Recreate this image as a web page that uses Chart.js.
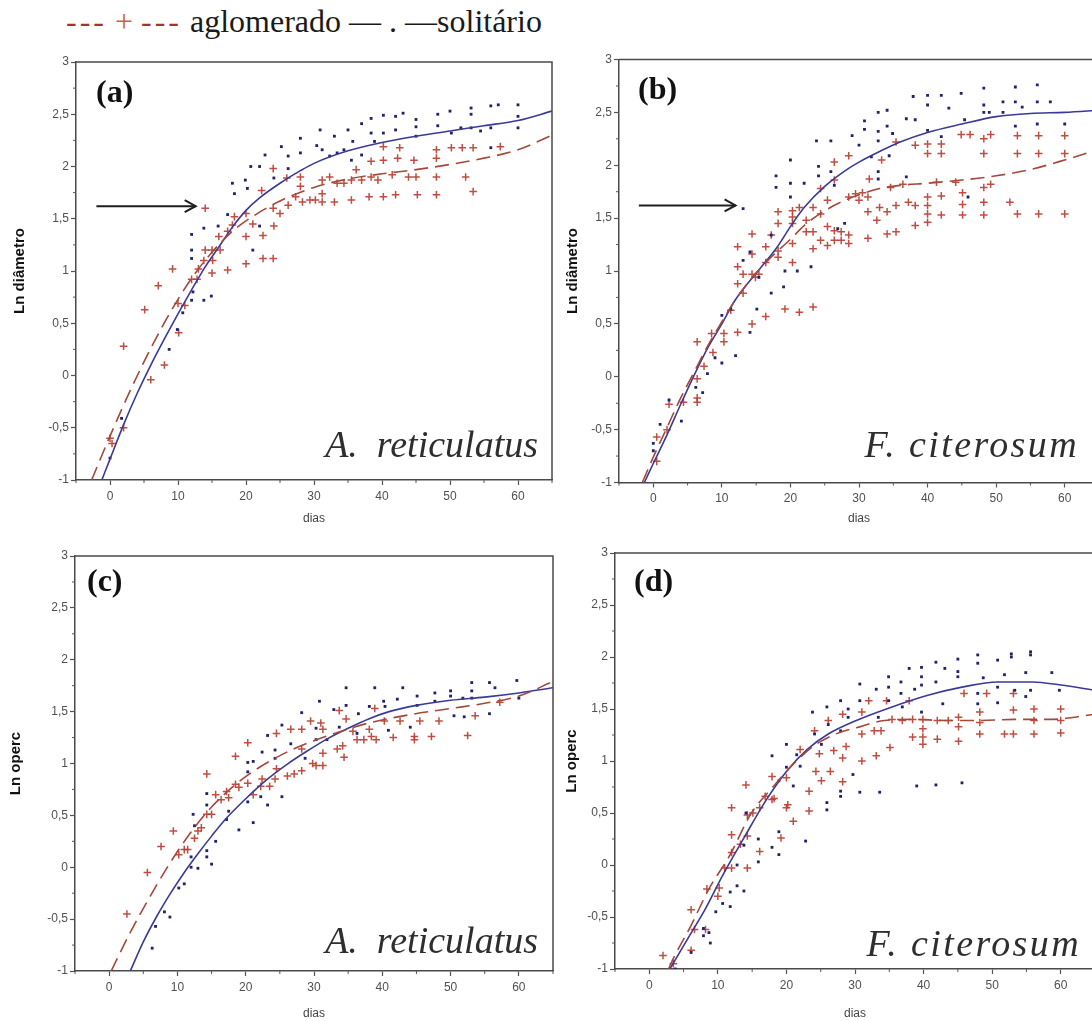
<!DOCTYPE html>
<html><head><meta charset="utf-8">
<script src="https://cdn.jsdelivr.net/npm/chart.js@4.4.1/dist/chart.umd.min.js"></script>
<style>
html,body{margin:0;padding:0;background:#fff;}
body{width:1092px;height:1021px;overflow:hidden;position:relative;}
canvas{position:absolute;}
#legend{position:absolute;left:66px;top:5px;line-height:32px;font-family:"Liberation Serif","Times New Roman",serif;font-size:32px;color:#1a1a1a;white-space:nowrap;}
#legend .d{color:#a8322a;letter-spacing:3px;}
#legend .p{color:#d2603e;}
</style></head><body>
<div id="legend"><span class="d">---</span> <span class="p">+</span> <span class="d">---</span> aglomerado — . —solitário</div>
<script>
// ---------- tick labels / texts ----------
const diasLabels = ['0','10','20','30','40','50','60'];
const lnLabels = ['-1','-0,5','0','0,5','1','1,5','2','2,5','3'];
const panelLetters = ['(a)','(b)','(c)','(d)'];
const speciesNames = ['A.  reticulatus','F. citerosum','A.  reticulatus','F. citerosum'];
const yTitles = ['Ln diâmetro','Ln diâmetro','Ln operc','Ln operc'];
const xTitle = 'dias';

// ---------- panel (a) : Ln diâmetro, A. reticulatus ----------
const aAglomerado = [[0,-0.6],[0.3,-0.65],[2,0.28],[2,-0.5],[5.1,0.63],[6,-0.04],[7.1,0.86],[8,0.1],[9.2,1.02],[10.1,0.41],[10,0.69],[11,0.67],[12,0.92],[12.8,0.92],[13,1.02],[13.8,1.1],[14,1.6],[14,1.2],[15,1.2],[15,0.98],[15.1,1.1],[16.2,1.2],[17.3,1.01],[16,1.33],[17.3,1.38],[18,1.44],[18.3,1.52],[20,1.33],[20,1.07],[20,1.55],[21,1.45],[22.3,1.77],[22.5,1.34],[22.5,1.12],[24,1.98],[24,1.6],[24.1,1.43],[24,1.12],[25,1.55],[26,1.89],[26.2,1.63],[27.3,1.71],[28,1.81],[28,1.9],[28.3,1.66],[29.4,1.68],[30.2,1.68],[31.2,1.74],[31.2,1.66],[31.2,1.87],[32.3,1.9],[33,1.66],[33.4,1.84],[34.4,1.84],[35.5,1.87],[35.5,1.68],[36.2,1.97],[37,1.87],[38.1,1.71],[38.4,1.9],[38.4,2.05],[39.4,1.87],[40.2,1.71],[40.2,2.06],[40.2,2.19],[41.5,1.92],[42,1.73],[42.3,2.08],[42.6,2.18],[43.9,1.9],[44.7,2.06],[45.2,1.73],[45,1.9],[48,2.16],[48,2.08],[48,1.9],[48,1.73],[50.2,2.18],[51.8,2.18],[52.3,1.9],[53.4,2.18],[53.4,1.76],[57.4,2.19]];
const aSolitario = [[0,-0.79],[1.7,-0.41],[8.7,0.25],[9.9,0.44],[10.7,0.6],[12,0.72],[12.2,0.8],[13.8,0.72],[14.9,0.76],[12,1.35],[12,1.2],[12,1.12],[13.8,1.41],[15.9,1.43],[17.3,1.54],[18,1.84],[18.3,1.74],[19.9,1.87],[20.2,1.79],[20.7,2.0],[21,1.2],[22,2.0],[22,1.43],[22.8,2.11],[24.1,1.89],[25.2,2.19],[26.2,2.1],[26.2,1.98],[28,2.13],[28,2.27],[30.4,2.2],[30.9,2.35],[31.2,2.16],[32.3,2.1],[33,2.29],[33.4,2.13],[34.4,2.16],[35,2.35],[35.5,2.06],[35.7,2.24],[37,2.41],[37,2.11],[38.4,2.46],[38.4,2.32],[38.9,2.24],[40.2,2.49],[40.2,2.32],[42,2.48],[42,2.35],[43.1,2.51],[45,2.45],[45,2.38],[45,2.29],[48.2,2.5],[48.2,2.39],[50,2.53],[50.2,2.32],[51.6,2.37],[53.1,2.56],[53.1,2.5],[53.1,2.37],[54.5,2.34],[56,2.58],[56,2.37],[56,2.18],[57.1,2.59],[60,2.59],[60,2.48],[60,2.37]];
const aCurveAglomerado = [[-2.7,-1],[0,-0.58],[3,-0.14],[6,0.26],[9,0.62],[12,0.93],[15,1.18],[18,1.38],[20,1.48],[25,1.67],[30,1.8],[35,1.88],[40,1.93],[45,1.97],[50,2.02],[55,2.08],[60,2.16],[65,2.3]];
const aCurveSolitario = [[-1.2,-1],[0,-0.8],[2,-0.47],[4,-0.17],[6,0.1],[8,0.35],[10,0.59],[12,0.82],[14,1.04],[16,1.23],[18,1.42],[20,1.58],[22,1.7],[25,1.84],[28,1.96],[30,2.03],[35,2.15],[40,2.23],[45,2.29],[50,2.34],[55,2.39],[60,2.44],[65,2.53]];
const aArrow = [[-2.0,1.62],[12.6,1.62]];

// ---------- panel (b) : Ln diâmetro, F. citerosum ----------
const bAglomerado = [[0.5,-0.57],[0.5,-0.8],[2,-0.5],[2.3,-0.26],[4.4,-0.24],[6.4,-0.02],[6.4,-0.24],[6.4,-0.2],[6.4,0.33],[7.4,0.1],[8.5,0.41],[8.7,0.23],[10.3,0.41],[10.3,0.33],[11.3,0.63],[12.3,1.23],[12.3,1.04],[12.3,0.88],[12.3,0.42],[13.1,0.79],[13.1,0.97],[14.4,1.35],[14.4,1.16],[14.4,0.97],[14.4,0.5],[14.9,0.94],[15.4,0.97],[16.4,1.23],[16.4,1.08],[16.4,0.57],[17.2,1.34],[18.2,1.56],[18.2,1.45],[18.2,1.19],[18.2,1.13],[19.2,0.64],[20.3,1.57],[20.3,1.51],[20.3,1.45],[20.3,1.26],[20.3,1.08],[21.3,1.6],[21.3,0.61],[22.3,1.48],[22.3,1.37],[23.3,1.6],[23.3,1.37],[23.3,1.21],[23.3,0.66],[24.4,1.78],[24.4,1.54],[24.4,1.29],[25.4,1.67],[25.4,1.42],[25.4,1.24],[26.4,2.03],[26.4,1.86],[26.4,1.38],[26.4,1.29],[27.4,1.37],[27.4,1.29],[28.5,2.09],[28.5,1.7],[28.5,1.34],[28.5,1.26],[29.5,1.73],[30,1.67],[30.5,1.74],[31.3,1.7],[31.3,1.56],[31.3,1.31],[31.5,1.87],[32.6,1.48],[33,1.6],[33.3,2.05],[34.1,1.56],[34.1,1.35],[34.6,1.79],[35.4,2.22],[35.4,1.62],[35.4,1.37],[36.4,1.82],[37.2,1.65],[38.2,2.19],[38.2,1.62],[38.2,1.43],[40,2.2],[40,2.11],[40,1.7],[40,1.62],[40,1.54],[40,1.46],[41.3,1.84],[42,2.2],[42,2.11],[42,1.71],[42,1.53],[44.1,1.84],[44.9,2.29],[45.1,1.74],[45.1,1.63],[45.1,1.53],[46.2,2.29],[48.2,2.25],[48.2,2.11],[48.2,1.79],[48.2,1.65],[48.2,1.53],[49.2,1.82],[49.2,2.29],[52,1.65],[53.1,2.28],[53.1,2.11],[53.1,1.54],[56.2,2.28],[56.2,2.11],[56.2,1.54],[60,2.28],[60,2.11],[60,1.54]];
const bSolitario = [[0,-0.63],[0,-0.7],[1,-0.45],[2.3,-0.22],[4.1,-0.42],[6.2,-0.1],[7.2,-0.15],[7.9,0.03],[9,0.18],[10,0.13],[10,0.58],[12,0.2],[11.3,0.64],[13.1,1.1],[13.1,1.59],[14.1,0.42],[14.1,1.18],[15.1,0.64],[15.4,0.94],[17.2,0.79],[17.2,1.34],[17.9,1.9],[17.9,1.79],[19,0.85],[19.2,1.0],[20,2.05],[20,1.83],[20,1.7],[21,1.0],[22,1.83],[23,1.04],[23.8,2.23],[24.1,1.99],[24.1,1.9],[25.9,2.23],[25.9,1.94],[26.4,1.81],[26.9,1.4],[27.9,1.45],[29,2.28],[30,2.19],[30.8,2.42],[30.8,2.34],[31.8,2.08],[32.8,2.5],[32.8,2.32],[32.8,2.23],[32.8,1.94],[32.8,1.87],[34.1,2.52],[34.1,2.37],[34.4,2.09],[34.9,2.3],[36.9,2.44],[36.9,1.89],[37.9,2.65],[38.2,2.43],[40,2.66],[40,2.57],[40,2.33],[42,2.66],[42,2.27],[43.1,2.54],[44.9,2.68],[45.4,2.43],[45.9,1.7],[48.2,2.73],[48.2,2.57],[48.2,2.5],[49,2.5],[51,2.6],[51,2.5],[52.8,2.74],[52.8,2.6],[52.8,2.37],[53.8,2.55],[56,2.76],[56,2.6],[56,2.39],[57.9,2.6],[60,2.39]];
const bCurveAglomerado = [[-1.6,-1],[0,-0.76],[2,-0.48],[4,-0.2],[6,0.05],[8,0.3],[10,0.52],[12,0.73],[15,0.98],[17,1.12],[20,1.3],[22,1.43],[25,1.57],[28,1.67],[30,1.72],[33,1.78],[36,1.81],[40,1.83],[45,1.86],[50,1.9],[55,1.96],[60,2.05],[65,2.15]];
const bCurveSolitario = [[-1.3,-1],[0,-0.82],[2,-0.55],[4,-0.26],[6,0.02],[8,0.28],[10,0.5],[12,0.73],[15,0.98],[18,1.22],[20,1.42],[22,1.6],[25,1.8],[28,1.95],[30,2.03],[33,2.13],[36,2.22],[40,2.31],[45,2.39],[50,2.46],[55,2.49],[60,2.5],[65,2.52]];
const bArrow = [[-2.1,1.62],[12.0,1.62]];

// ---------- panel (c) : Ln operc, A. reticulatus ----------
const cAglomerado = [[2.6,-0.45],[5.6,-0.05],[7.6,0.2],[9.4,0.35],[10.2,0.12],[11,0.17],[11.5,0.17],[12.5,0.28],[13,0.35],[13.5,0.38],[14.3,0.9],[14.3,0.51],[15,0.51],[15.6,0.7],[16.4,0.65],[17.2,0.73],[17.5,0.67],[18.5,1.07],[18.5,0.8],[19,0.77],[20.3,1.2],[20.3,0.81],[21.1,0.7],[22.2,0.78],[22.4,0.85],[23.5,0.78],[24.3,0.85],[24.5,1.29],[24.5,0.95],[26.1,0.88],[26.6,1.33],[27.1,0.9],[28.2,1.14],[28.2,0.93],[28.2,1.33],[29.5,1.41],[29.8,1.0],[30.3,0.98],[31,1.39],[31.3,1.33],[31.3,1.1],[31.3,0.98],[33.4,1.14],[33.7,1.51],[34.2,1.17],[34.4,1.06],[34.7,1.43],[35.7,1.31],[36.3,1.23],[37.3,1.23],[38.1,1.33],[38.4,1.26],[38.9,1.53],[39.1,1.23],[40.3,1.41],[41.6,1.25],[42.6,1.41],[44.7,1.26],[44.7,1.23],[45.5,1.41],[47.2,1.26],[48.3,1.41],[52.5,1.27],[53.6,1.46],[57.2,1.59]];
const cSolitario = [[6.3,-0.78],[6.8,-0.57],[8.1,-0.43],[8.9,-0.48],[10.2,-0.2],[11,-0.16],[12,0],[12,0.1],[13,-0.01],[12.3,0.51],[12.5,0.4],[14.3,0.71],[14.3,0.6],[14.3,0.16],[14.3,0.1],[15,0.03],[15.6,0.25],[17.2,0.46],[17.5,0.54],[19,0.36],[20.3,1.01],[20.3,0.92],[20.3,0.63],[21.1,0.43],[21.1,1.02],[22.2,0.68],[22.4,1.11],[23.2,0.6],[23.2,1.27],[24.3,1.13],[24.3,1.05],[25.3,1.37],[25.3,0.68],[26.6,1.19],[28.2,1.49],[28.7,1.05],[30.3,1.34],[30.3,1.23],[30.8,1.6],[31.9,1.23],[32.9,1.52],[33.7,1.35],[34.7,1.73],[34.7,1.56],[36.3,1.29],[36.5,1.48],[38.1,1.55],[38.9,1.73],[40.2,1.6],[40.4,1.55],[40.9,1.32],[43,1.73],[42.2,1.62],[44.1,1.35],[45.1,1.65],[45.1,1.56],[47.7,1.68],[47.7,1.6],[50,1.7],[50,1.65],[50.5,1.46],[51.8,1.63],[52,1.45],[53.1,1.78],[53.1,1.7],[53.1,1.63],[55.7,1.78],[55.7,1.48],[56.5,1.73],[59.7,1.8],[60,1.63]];
const cCurveAglomerado = [[0.3,-1],[3,-0.64],[6,-0.28],[9,0.05],[12,0.34],[15,0.58],[18,0.77],[21,0.92],[24,1.04],[27,1.14],[30,1.22],[34,1.31],[38,1.39],[44,1.47],[50,1.53],[55,1.58],[60,1.65],[65,1.79]];
const cCurveSolitario = [[3.1,-1],[5,-0.72],[7,-0.47],[9,-0.25],[11,-0.05],[13,0.13],[15,0.3],[17,0.46],[20,0.66],[23,0.84],[26,0.99],[29,1.12],[32,1.24],[35,1.34],[38,1.43],[41,1.5],[45,1.56],[50,1.61],[55,1.64],[60,1.68],[65,1.73]];

// ---------- panel (d) : Ln operc, F. citerosum ----------
const dAglomerado = [[2,-0.87],[3.5,-0.95],[6.1,-0.43],[6.1,-0.82],[6.6,-0.62],[8.4,-0.23],[8.2,-0.62],[10,-0.3],[10.2,-0.22],[11,-0.03],[12,0.55],[12,0.29],[12,0.12],[12,-0.03],[13.3,0.2],[14.1,0.77],[14.3,0.48],[14.3,0.28],[14.3,-0.03],[15.1,0.5],[16.1,0.55],[16.1,0.13],[16.9,0.66],[17.9,0.85],[17.9,0.63],[19.2,0.26],[18.2,0.64],[20,0.55],[20,0.84],[20.2,0.58],[21,0.42],[22,1.11],[23.3,0.52],[23.3,0.71],[24.1,1.29],[24.3,0.9],[24.8,1.07],[25.1,0.81],[26.1,1.39],[26.4,0.9],[26.9,1.1],[28.2,1.45],[28.2,1.03],[28.2,0.8],[28.7,1.14],[31,1.26],[31,1.0],[31,1.47],[32,1.58],[32.8,1.29],[33.1,1.05],[33.8,1.29],[34.6,1.58],[35.1,1.13],[35.4,1.4],[36.9,1.39],[37.9,1.58],[38.4,1.4],[38.4,1.23],[39.9,1.4],[39.9,1.23],[39.9,1.16],[39.9,1.31],[42,1.39],[42,1.21],[43.6,1.39],[45.1,1.42],[45.1,1.33],[45.1,1.19],[45.9,1.65],[48.2,1.47],[48.2,1.37],[48.2,1.26],[49.2,1.65],[51.8,1.26],[53.1,1.65],[53.1,1.49],[53.1,1.26],[56.1,1.5],[56.1,1.39],[56.1,1.26],[60,1.5],[60,1.39],[60,1.27]];
const dSolitario = [[3.8,-1],[6.1,-0.84],[7.9,-0.61],[8.7,-0.65],[8.9,-0.75],[7.9,-0.68],[9.7,-0.45],[10.7,-0.37],[11.8,-0.4],[11.8,-0.26],[12.8,-0.2],[13.8,-0.25],[13.8,0.19],[12.8,0],[14.1,0.5],[15.9,0.03],[15.9,0.25],[17.9,0.17],[18.9,0.1],[17.9,1.05],[18.9,0.81],[18.9,0.32],[20,1.16],[20,0.94],[21,0.76],[21.5,1.06],[22.8,0.23],[22,0.95],[23.8,1.47],[24.1,1.26],[25.1,1.16],[25.9,1.52],[25.9,0.53],[25.9,0.6],[26.1,1.35],[27.9,1.58],[27.9,1.29],[27.9,0.66],[27.9,0.71],[29,1.5],[29,1.42],[29.7,0.87],[30.7,1.74],[30.7,1.58],[30.7,0.7],[33.1,1.69],[33.4,1.42],[33.6,0.7],[34.9,1.81],[34.9,1.71],[34.9,1.58],[36.7,1.76],[36.7,1.65],[36.9,1.52],[37.9,1.89],[38.7,1.69],[39,0.76],[39.7,1.9],[39.7,1.81],[39.7,1.73],[39.7,1.47],[41.8,1.95],[41.8,1.76],[41.8,0.77],[43.1,1.89],[42.8,1.55],[45,1.98],[45,1.86],[45,1.81],[45.6,0.79],[47.9,2.02],[47.9,1.94],[47.9,1.65],[47.9,1.55],[48.7,1.8],[50.8,1.97],[50.8,1.71],[50.8,1.56],[52.8,2.03],[52.8,2.0],[51.8,1.83],[53.3,1.68],[54.9,1.85],[54.9,1.62],[55.6,2.05],[55.6,2.02],[55.6,1.68],[58.7,1.85],[59.8,1.68]];
const dCurveAglomerado = [[2.8,-1],[3.5,-0.9],[6.1,-0.58],[8.7,-0.23],[11.8,0.1],[14.8,0.49],[17.9,0.74],[21,0.97],[24.1,1.15],[27.2,1.26],[30.2,1.32],[34.3,1.39],[38.4,1.4],[43.1,1.39],[48.2,1.39],[53.3,1.4],[58.5,1.4],[65,1.45]];
const dCurveSolitario = [[3,-1],[5.6,-0.71],[8.2,-0.42],[10.7,-0.1],[13.8,0.26],[16.9,0.61],[20,0.9],[23,1.11],[26.1,1.26],[30.2,1.39],[35.4,1.52],[40.5,1.63],[45.6,1.71],[50.8,1.76],[55.9,1.76],[60,1.73],[65,1.68]];

// ---------- styles ----------
const RED = 'rgba(185,58,46,0.9)';
const BLUE = '#22226a';
const RED_LINE = '#a4483c';
const BLUE_LINE = '#3a3a98';
const AXIS = '#4a4a4a';
const TICK_TXT = '#505050';

// ---------- layout (page pixels) ----------
const layouts = [
  {left:0,   top:40,  w:560, h:490, yW:76, padT:22,  padR:8, xH:50,   titleP:11, titleB:4, letterDx:20, letterDy:32, spDx:14, spDy:23, spacing:0},
  {left:556, top:40,  w:550, h:490, yW:63, padT:19.5,padR:7, xH:47.5, titleP:8,  titleB:4, letterDx:19, letterDy:31.5, spDx:20, spDy:26, spacing:2.4},
  {left:0,   top:530, w:560, h:491, yW:75, padT:26,  padR:7, xH:50,   titleP:7,  titleB:0, letterDx:12, letterDy:27, spDx:15, spDy:18, spacing:0},
  {left:553, top:530, w:550, h:491, yW:62, padT:23,  padR:8, xH:52,   titleP:10, titleB:0, letterDx:19, letterDy:30, spDx:14, spDy:13, spacing:2.4}
];

const panels = [
  {agl:aAglomerado, sol:aSolitario, aglC:aCurveAglomerado, solC:aCurveSolitario, arrow:aArrow},
  {agl:bAglomerado, sol:bSolitario, aglC:bCurveAglomerado, solC:bCurveSolitario, arrow:bArrow},
  {agl:cAglomerado, sol:cSolitario, aglC:cCurveAglomerado, solC:cCurveSolitario, arrow:null},
  {agl:dAglomerado, sol:dSolitario, aglC:dCurveAglomerado, solC:dCurveSolitario, arrow:null}
];

const isHalf = v => Math.abs(v*2 - Math.round(v*2)) < 1e-6;

const panelDeco = {
  id:'panelDeco',
  afterDraw(chart, args, opts){
    const {ctx, chartArea:a, scales:{x, y}} = chart;
    ctx.save();
    // top and right frame lines
    ctx.strokeStyle = AXIS; ctx.lineWidth = 1.5;
    ctx.beginPath();
    ctx.moveTo(a.left, a.top); ctx.lineTo(a.right, a.top); ctx.lineTo(a.right, a.bottom);
    ctx.stroke();
    // minor ticks
    ctx.lineWidth = 1; ctx.strokeStyle = '#555';
    ctx.beginPath();
    x.ticks.forEach(t => { if (t.value % 10 !== 0) { const px = x.getPixelForValue(t.value); ctx.moveTo(px, a.bottom); ctx.lineTo(px, a.bottom + 3); } });
    y.ticks.forEach(t => { if (!isHalf(t.value)) { const py = y.getPixelForValue(t.value); ctx.moveTo(a.left, py); ctx.lineTo(a.left - 3, py); } });
    ctx.stroke();
    // arrow head
    chart.data.datasets.forEach((ds, i) => {
      if (!ds.isArrow) return;
      const pts = chart.getDatasetMeta(i).data;
      const p = pts[pts.length - 1];
      ctx.strokeStyle = '#1e1e1e'; ctx.lineWidth = 2;
      ctx.beginPath();
      ctx.moveTo(p.x - 11, p.y - 6); ctx.lineTo(p.x, p.y); ctx.lineTo(p.x - 11, p.y + 6);
      ctx.stroke();
    });
    // panel letter
    ctx.fillStyle = '#111';
    ctx.font = 'bold 32px "Liberation Serif", "Times New Roman", serif';
    ctx.textAlign = 'left'; ctx.textBaseline = 'middle';
    ctx.fillText(opts.letter, a.left + opts.letterDx, a.top + opts.letterDy);
    // species name
    ctx.fillStyle = '#2e2e2e';
    ctx.font = 'italic 38px "Liberation Serif", "Times New Roman", serif';
    if ('letterSpacing' in ctx) ctx.letterSpacing = opts.spacing + 'px';
    ctx.textAlign = 'right'; ctx.textBaseline = 'alphabetic';
    ctx.fillText(opts.species, Math.min(a.right, chart.width) - opts.spDx, a.bottom - opts.spDy);
    ctx.restore();
  }
};

function makePanel(i){
  const L = layouts[i], P = panels[i];
  const cv = document.createElement('canvas');
  cv.width = L.w; cv.height = L.h;
  cv.style.left = L.left + 'px'; cv.style.top = L.top + 'px';
  cv.style.width = L.w + 'px'; cv.style.height = L.h + 'px';
  document.body.appendChild(cv);
  const datasets = [
    {label:'aglomerado', data:P.agl, pointStyle:'cross', pointRadius:3.8, borderColor:RED, backgroundColor:RED, borderWidth:1.5, order:2},
    {label:'solitário', data:P.sol, pointStyle:'rect', pointRadius:2, borderColor:BLUE, backgroundColor:BLUE, borderWidth:0, order:1},
    {type:'line', label:'aglomerado (ajuste)', data:P.aglC, borderColor:RED_LINE, borderWidth:1.6, borderDash:[14,7], pointRadius:0, cubicInterpolationMode:'monotone', fill:false, order:0},
    {type:'line', label:'solitário (ajuste)', data:P.solC, borderColor:BLUE_LINE, borderWidth:1.6, pointRadius:0, cubicInterpolationMode:'monotone', fill:false, order:0}
  ];
  if (P.arrow) datasets.push({type:'line', label:'seta', data:P.arrow, isArrow:true, borderColor:'#1e1e1e', borderWidth:2, pointRadius:0, fill:false, order:0});
  new Chart(cv, {
    type:'scatter',
    data:{datasets},
    options:{
      responsive:false, animation:false, devicePixelRatio:1,
      layout:{padding:{left:0, top:L.padT, right:L.padR, bottom:0}},
      plugins:{legend:{display:false}, tooltip:{enabled:false},
        panelDeco:{letter:panelLetters[i], species:speciesNames[i], letterDx:L.letterDx, letterDy:L.letterDy, spDx:L.spDx, spDy:L.spDy, spacing:L.spacing}},
      scales:{
        x:{type:'linear', min:-5, max:65,
          afterFit:s => { s.height = L.xH; },
          ticks:{stepSize:5, autoSkip:false, maxRotation:0, padding:4, color:TICK_TXT,
            font:{family:'"Liberation Sans", Arial, sans-serif', size:12},
            callback:v => (v % 10 === 0 && v >= 0 && v <= 60) ? diasLabels[v/10] : ''},
          grid:{drawOnChartArea:false, tickLength:5, tickWidth:1.2,
            tickColor:c => (c.tick && c.tick.value % 10 === 0) ? '#555' : 'rgba(0,0,0,0)'},
          border:{display:true, color:AXIS, width:1.5},
          title:{display:true, text:xTitle, color:'#444', padding:{top:0, bottom:L.titleB},
            font:{family:'"Liberation Sans", Arial, sans-serif', size:12}}
        },
        y:{type:'linear', min:-1, max:3,
          afterFit:s => { s.width = L.yW; },
          ticks:{stepSize:0.25, autoSkip:false, padding:2, color:TICK_TXT,
            font:{family:'"Liberation Sans", Arial, sans-serif', size:12},
            callback:v => isHalf(v) ? lnLabels[Math.round((v + 1) * 2)] : ''},
          grid:{drawOnChartArea:false, tickLength:5, tickWidth:1.2,
            tickColor:c => (c.tick && isHalf(c.tick.value)) ? '#555' : 'rgba(0,0,0,0)'},
          border:{display:true, color:AXIS, width:1.5},
          title:{display:true, text:yTitles[i], color:'#111', padding:{top:L.titleP, bottom:0},
            font:{family:'"Liberation Sans", Arial, sans-serif', size:15, weight:'bold'}}
        }
      }
    },
    plugins:[panelDeco]
  });
}
[0,1,2,3].forEach(makePanel);
</script>
</body></html>
